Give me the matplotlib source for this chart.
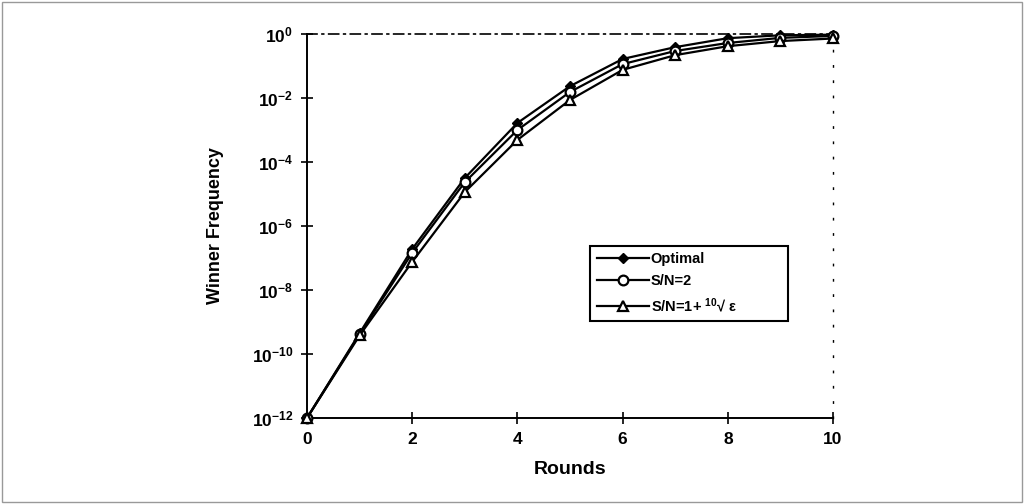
import numpy as np
import matplotlib.pyplot as plt
from matplotlib.patches import Rectangle

# rounds and log10 of winner frequency
rounds = [0, 1, 2, 3, 4, 5, 6, 7, 8, 9, 10]
log_optimal = [-12.0, -9.35, -6.72, -4.50, -2.78, -1.63, -0.78, -0.41, -0.13, -0.04, -0.02]
log_sn2 = [-12.0, -9.38, -6.84, -4.63, -3.00, -1.81, -0.94, -0.53, -0.28, -0.12, -0.06]
log_sn_eps = [-12.0, -9.42, -7.12, -4.94, -3.31, -2.06, -1.12, -0.66, -0.38, -0.22, -0.14]

yticks = [1e0, 1e-2, 1e-4, 1e-6, 1e-8, 1e-10, 1e-12]
ytick_labels = ["$10^{0}$", "$10^{-2}$", "$10^{-4}$", "$10^{-6}$",
                "$10^{-8}$", "$10^{-10}$", "$10^{-12}$"]

plt.rcParams['font.family'] = ['Liberation Sans', 'DejaVu Sans']
plt.rcParams['font.weight'] = 'bold'
plt.rcParams['mathtext.fontset'] = 'custom'
plt.rcParams['mathtext.rm'] = 'Liberation Sans:bold'
plt.rcParams['mathtext.bf'] = 'Liberation Sans:bold'
plt.rcParams['mathtext.it'] = 'Liberation Sans:bold'

fig = plt.figure(figsize=(10.24, 5.04), dpi=100)
fig.patches.append(Rectangle((0.002, 0.004), 0.996, 0.992, transform=fig.transFigure,
                             fill=False, edgecolor='#999999', linewidth=1))
ax = fig.add_axes([0.2998, 0.1706, 0.5137, 0.7619])

ax.plot(rounds, 10.0 ** np.array(log_optimal), color='black', lw=1.6,
        marker='D', markersize=5.5, markerfacecolor='black', label='Optimal',
        clip_on=False, zorder=4)
ax.plot(rounds, 10.0 ** np.array(log_sn2), color='black', lw=1.6,
        marker='o', markersize=7, markerfacecolor='white', markeredgewidth=1.6,
        label='S/N=2', clip_on=False, zorder=4)
ax.plot(rounds, 10.0 ** np.array(log_sn_eps), color='black', lw=1.6,
        marker='^', markersize=6.5, markerfacecolor='white', markeredgewidth=1.6,
        label='S/N=1+ $^{10}$\u221a \u03b5            ', clip_on=False, zorder=4)

ax.set_yscale('log')
ax.set_xlim(0, 10)
ax.set_ylim(1e-12, 1e0)
ax.set_xticks([0, 2, 4, 6, 8, 10])
ax.set_yticks(yticks)
ax.set_yticklabels(ytick_labels)
ax.minorticks_off()
ax.tick_params(direction='inout', length=8, width=1.2, labelsize=12.5, pad=6)
for lbl in ax.get_xticklabels():
    lbl.set_fontweight('bold')

ax.spines['left'].set_linewidth(1.4)
ax.spines['bottom'].set_linewidth(1.4)
ax.spines['top'].set_linestyle((0, (6, 3, 1, 3)))
ax.spines['top'].set_linewidth(1.2)
ax.spines['right'].set_linestyle((0, (1, 10)))
ax.spines['right'].set_linewidth(1.0)

ax.set_xlabel('Rounds', fontsize=14, fontweight='bold', labelpad=10)
ax.set_ylabel('Winner Frequency', fontsize=13, fontweight='bold', labelpad=20)

leg = ax.legend(loc='upper left', bbox_to_anchor=(0.538, 0.449), fontsize=10.5,
                frameon=True, fancybox=False, edgecolor='black', framealpha=1,
                handlelength=3.6, handletextpad=0.1, borderpad=0.45, labelspacing=0.55,
                borderaxespad=0)
leg.get_frame().set_linewidth(1.5)

fig.savefig('out.png', dpi=100)
